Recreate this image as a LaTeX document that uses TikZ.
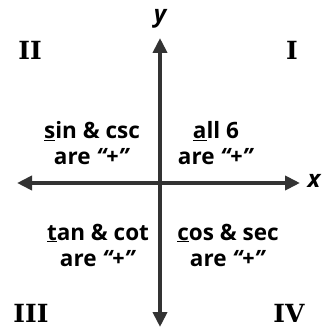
\documentclass[tikz,border=0pt]{standalone}
\usepackage{fontspec}
\setmainfont{Open Sans}
\newfontfamily\numfont{DejaVu Serif}
\usetikzlibrary{arrows.meta}

\begin{document}
\begin{tikzpicture}[x=1pt, y=-1pt,
  axis/.style={{Triangle[length=15pt,width=14pt]}-{Triangle[length=15pt,width=14pt]}, line width=4.5pt, draw=black!80},
  rule/.style={align=center, font=\fontsize{22.5}{26}\selectfont\bfseries},
  quad/.style={font=\fontsize{25}{25}\numfont\bfseries},
  lbl/.style={font=\fontsize{24}{24}\selectfont\bfseries\itshape}
]
  \useasboundingbox (0,0) rectangle (323,328);
  \coordinate (top) at (160,38);
  \coordinate (bot) at (160,327);
  \coordinate (left) at (17,183);
  \coordinate (right) at (300,183);
  \draw[axis] (left) -- (right);
  \draw[axis] (bot) -- (top);
  \node[lbl] (ylab) at (160,19) {y};
  \node[lbl] (xlab) at (314,181) {x};

  \node[quad] (qI) at (292,50) {I};
  \node[quad] (qII) at (30,50) {II};
  \node[quad] (qIII) at (31,313) {III};
  \node[quad] (qIV) at (289,313) {IV};

  \node[rule] (rII) at (92,143) {\underline{s}in \& csc\\are \textit{“+”}};
  \node[rule] (rI) at (216,143) {\underline{a}ll 6\\are \textit{“+”}};
  \node[rule] (rIII) at (98,245) {\underline{t}an \& cot\\are \textit{“+”}};
  \node[rule] (rIV) at (228,245) {\underline{c}os \& sec\\are \textit{“+”}};
\end{tikzpicture}
\end{document}
